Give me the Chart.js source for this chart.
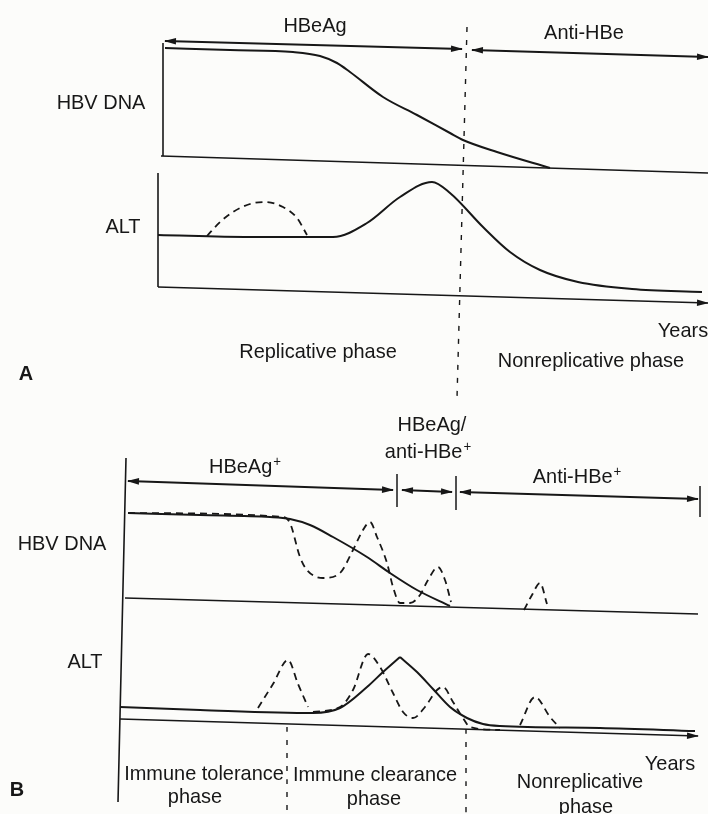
<!DOCTYPE html>
<html>
<head>
<meta charset="utf-8">
<script src="https://cdn.jsdelivr.net/npm/chart.js@4.4.1/dist/chart.umd.min.js"></script>
<style>
  html, body { margin: 0; padding: 0; background: #fcfcfa; }
  canvas { display: block; }
</style>
</head>
<body>
<canvas id="c" width="708" height="814"></canvas>
<script>
// schematic units (one unit = one pixel of the original figure)

// ---- panel A ----
const aArrow1X = [165, 462], aArrow1Y = [41, 49];
const aArrow2X = [472, 708], aArrow2Y = [50, 57];
const aDnaAxisX = [163, 163], aDnaAxisY = [43, 156];
const aDnaBaseX = [161, 708], aDnaBaseY = [156, 173];
const aDnaX = [165, 230, 293, 320, 337, 350, 383, 417, 450, 463, 497, 550];
const aDnaY = [48, 50, 52, 56, 63, 72, 97, 115, 133, 140, 152, 168];
const aAltAxisX = [158, 158], aAltAxisY = [173, 287];
const aAltBaseX = [158, 708], aAltBaseY = [287, 303];
const aAltX = [158, 250, 333, 367, 400, 432, 450, 483, 510, 540, 578, 632, 702];
const aAltY = [235, 237, 237, 223, 197, 182, 193, 227, 252, 270, 282, 289, 292];
const aAltFlareX = [207, 220, 233, 250, 265, 283, 297, 307];
const aAltFlareY = [236, 222, 212, 204, 202, 207, 218, 235];
const aSplitX = [467, 457], aSplitY = [27, 398];

// ---- panel B ----
const bAxisX = [126, 118], bAxisY = [458, 802];
const bArrow1X = [128, 393], bArrow1Y = [481, 490];
const bArrow2X = [402, 452], bArrow2Y = [490, 492];
const bArrow3X = [460, 698], bArrow3Y = [492, 499];
const bTick1X = [397, 397], bTick1Y = [474, 507];
const bTick2X = [456, 456], bTick2Y = [476, 510];
const bTick3X = [700, 700], bTick3Y = [486, 517];
const bDnaBaseX = [125, 698], bDnaBaseY = [598, 614];
const bDnaX = [128, 200, 270, 290, 310, 333, 367, 390, 417, 450];
const bDnaY = [513, 515, 517, 519, 525, 537, 557, 573, 590, 606];
const bDnaFlareX = [128, 283, 290, 300, 307, 323, 340, 353, 363, 370, 377, 387, 393, 400, 410, 420, 428, 438, 445, 451];
const bDnaFlareY = [513, 517, 523, 557, 570, 578, 573, 550, 530, 522, 537, 563, 587, 603, 603, 595, 580, 567, 580, 602];
const bDnaBlipX = [524, 532, 540, 547];
const bDnaBlipY = [610, 595, 583, 604];
const bAltBaseX = [120, 698], bAltBaseY = [719, 736];
// ALT flare in B has a sharp top: rise and fall meet at the peak
const bAltRiseX = [120, 200, 313, 340, 367, 383, 400];
const bAltRiseY = [707, 710, 713, 708, 687, 672, 657];
const bAltFallX = [400, 417, 433, 450, 467, 483, 500, 600, 695];
const bAltFallY = [657, 672, 689, 707, 718, 724, 726, 728, 731];
const bAltFlare1X = [258, 273, 288, 298, 308];
const bAltFlare1Y = [708, 684, 660, 684, 707];
const bAltFlare2X = [313, 340, 353, 368, 380, 393, 403, 413, 425, 437, 443, 453, 463, 470, 500];
const bAltFlare2Y = [712, 707, 690, 654, 667, 693, 712, 718, 707, 690, 687, 702, 718, 727, 730];
const bAltFlare3X = [520, 535, 550, 560];
const bAltFlare3Y = [725, 697, 717, 728];
const bSplit1X = [287, 287], bSplit1Y = [727, 814];
const bSplit2X = [466, 466], bSplit2Y = [729, 814];

const INK = "#171717";
const FONT = "'Liberation Sans', Arial, sans-serif";

const pts = (xs, ys) => xs.map((x, i) => ({ x, y: ys[i] }));

function line(xs, ys, extra) {
  return Object.assign({
    data: pts(xs, ys),
    showLine: true,
    borderColor: INK,
    borderWidth: 2,
    pointRadius: 0,
    cubicInterpolationMode: "monotone",
    fill: false,
  }, extra || {});
}
const dashed = { borderDash: [7, 5], borderWidth: 1.8 };
const split = { borderDash: [5, 8], borderWidth: 1.4 };
const frame = { borderWidth: 1.6 };
const span = { arrowStart: true, arrowEnd: true, borderWidth: 2.2 };

// label anchors: centre of the capitals
const labels = [
  { t: "HBeAg", x: 315, y: 24 },
  { t: "Anti-HBe", x: 584, y: 31 },
  { t: "HBV DNA", x: 101, y: 101 },
  { t: "ALT", x: 123, y: 225 },
  { t: "Years", x: 683, y: 329 },
  { t: "Replicative phase", x: 318, y: 350 },
  { t: "Nonreplicative phase", x: 591, y: 359 },
  { t: "A", x: 26, y: 372, bold: true },
  { t: "HBeAg/", x: 432, y: 423 },
  { t: "anti-HBe", sup: "+", x: 428, y: 450 },
  { t: "HBeAg", sup: "+", x: 245, y: 465 },
  { t: "Anti-HBe", sup: "+", x: 577, y: 475 },
  { t: "HBV DNA", x: 62, y: 542 },
  { t: "ALT", x: 85, y: 660 },
  { t: "Years", x: 670, y: 762 },
  { t: "Immune tolerance", x: 204, y: 772 },
  { t: "phase", x: 195, y: 795 },
  { t: "Immune clearance", x: 375, y: 773 },
  { t: "phase", x: 374, y: 797 },
  { t: "Nonreplicative", x: 580, y: 780 },
  { t: "phase", x: 586, y: 805 },
  { t: "B", x: 17, y: 788, bold: true },
];

const paper = {
  id: "paper",
  beforeDraw(chart) {
    const c = chart.ctx;
    c.save();
    c.fillStyle = "#fcfcfa";
    c.fillRect(0, 0, chart.width, chart.height);
    c.restore();
  },
};

function head(c, from, to) {
  const a = Math.atan2(to.y - from.y, to.x - from.x);
  c.save();
  c.translate(to.x, to.y);
  c.rotate(a);
  c.beginPath();
  c.moveTo(1, 0);
  c.lineTo(-11, -3.3);
  c.lineTo(-11, 3.3);
  c.closePath();
  c.fill();
  c.restore();
}

const arrows = {
  id: "arrows",
  afterDatasetsDraw(chart) {
    const c = chart.ctx;
    c.save();
    c.fillStyle = INK;
    chart.data.datasets.forEach((ds, i) => {
      const p = chart.getDatasetMeta(i).data;
      if (ds.arrowStart) head(c, p[1], p[0]);
      if (ds.arrowEnd) head(c, p[p.length - 2], p[p.length - 1]);
    });
    c.restore();
  },
};

const SQUEEZE = 0.95;
const texts = {
  id: "texts",
  afterDraw(chart) {
    const c = chart.ctx, sx = chart.scales.x, sy = chart.scales.y;
    c.save();
    c.fillStyle = INK;
    c.textBaseline = "alphabetic";
    c.textAlign = "left";
    labels.forEach((l) => {
      const size = 21;
      const main = (l.bold ? "bold " : "") + size + "px " + FONT;
      const small = "14px " + FONT;
      c.font = main;
      const w1 = c.measureText(l.t).width;
      let w2 = 0;
      if (l.sup) { c.font = small; w2 = c.measureText(l.sup).width + 1; }
      const cx = sx.getPixelForValue(l.x);
      const base = sy.getPixelForValue(l.y) + 0.358 * size;
      c.save();
      c.translate(cx, base);
      c.scale(SQUEEZE, 1);
      const left = -(w1 + w2) / 2;
      c.font = main;
      c.fillText(l.t, left, 0);
      if (l.sup) { c.font = small; c.fillText(l.sup, left + w1 + 1, -7); }
      c.restore();
    });
    c.restore();
  },
};

new Chart(document.getElementById("c"), {
  type: "scatter",
  data: {
    datasets: [
      line(aArrow1X, aArrow1Y, span),
      line(aArrow2X, aArrow2Y, span),
      line(aDnaAxisX, aDnaAxisY, frame),
      line(aDnaBaseX, aDnaBaseY, frame),
      line(aDnaX, aDnaY),
      line(aAltAxisX, aAltAxisY, frame),
      line(aAltBaseX, aAltBaseY, { borderWidth: 1.6, arrowEnd: true }),
      line(aAltX, aAltY),
      line(aAltFlareX, aAltFlareY, dashed),
      line(aSplitX, aSplitY, split),

      line(bAxisX, bAxisY, frame),
      line(bArrow1X, bArrow1Y, span),
      line(bArrow2X, bArrow2Y, span),
      line(bArrow3X, bArrow3Y, span),
      line(bTick1X, bTick1Y, { borderWidth: 1.5 }),
      line(bTick2X, bTick2Y, { borderWidth: 1.5 }),
      line(bTick3X, bTick3Y, { borderWidth: 1.5 }),
      line(bDnaBaseX, bDnaBaseY, frame),
      line(bDnaX, bDnaY),
      line(bDnaFlareX, bDnaFlareY, dashed),
      line(bDnaBlipX, bDnaBlipY, dashed),
      line(bAltBaseX, bAltBaseY, { borderWidth: 1.6, arrowEnd: true }),
      line(bAltRiseX, bAltRiseY),
      line(bAltFallX, bAltFallY),
      line(bAltFlare1X, bAltFlare1Y, dashed),
      line(bAltFlare2X, bAltFlare2Y, dashed),
      line(bAltFlare3X, bAltFlare3Y, dashed),
      line(bSplit1X, bSplit1Y, split),
      line(bSplit2X, bSplit2Y, split),
    ],
  },
  options: {
    responsive: false,
    animation: false,
    layout: { padding: 0 },
    plugins: { legend: { display: false }, tooltip: { enabled: false } },
    scales: {
      x: { type: "linear", min: 0, max: 708, display: false },
      y: { type: "linear", min: 0, max: 814, reverse: true, display: false },
    },
  },
  plugins: [paper, arrows, texts],
});
</script>
</body>
</html>
